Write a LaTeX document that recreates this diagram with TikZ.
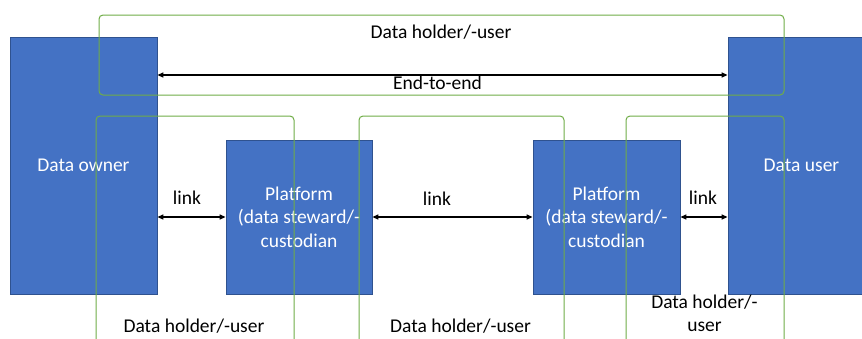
\documentclass[tikz,border=0pt]{standalone}
\usepackage{fontspec}
\setmainfont{Carlito}
\usetikzlibrary{arrows.meta}
\definecolor{boxblue}{HTML}{4472C4}
\definecolor{boxedge}{HTML}{2F528F}
\definecolor{scopegreen}{HTML}{70AD47}
\begin{document}
\begin{tikzpicture}[x=1pt,y=-1pt,
  font=\fontsize{19.5}{23.4}\selectfont,
  actor/.style={draw=boxedge, fill=boxblue, text=white, line width=0.8pt,
                align=center, inner sep=0pt},
  scopeline/.style={draw=scopegreen, line width=1pt, rounded corners=4pt},
  conn/.style={{Triangle[length=6pt,width=5pt]}-{Triangle[length=6pt,width=5pt]},
               line width=1.3pt},
  lbl/.style={anchor=base, inner sep=0pt, align=center}]
\clip (0,0) rectangle (862,338);
\fill[white] (0,0) rectangle (862,338);

% parties
\node[actor, minimum width=147pt, minimum height=257pt] (owner) at (83.5,165.5) {Data owner};
\node[actor, minimum width=146pt, minimum height=154pt] (p1) at (299,217) {Platform\\(data steward/-\\custodian};
\node[actor, minimum width=147pt, minimum height=154pt] (p2) at (606.5,217) {Platform\\(data steward/-\\custodian};
\node[actor, minimum width=147pt, minimum height=257pt] (user) at (801.5,165.5) {Data user};

% connections
\coordinate (e2e) at (0,75);
\draw[conn] (owner.east |- e2e) -- (user.west |- e2e);
\draw[conn] (owner.east |- p1.west) -- (p1.west);
\draw[conn] (p1.east) -- (p2.west);
\draw[conn] (p2.east) -- (user.west |- p2.east);

% labels
\node[lbl] (toplbl) at (441,38.5) {Data holder/-user};
\node[lbl] (e2elbl) at (437.5,89) {End-to-end};
\node[lbl] (link1) at (187,204) {link};
\node[lbl] (link2) at (437,205) {link};
\node[lbl] (link3) at (703,204) {link};
\node[lbl] (hold1) at (194,332.5) {Data holder/-user};
\node[lbl] (hold2) at (460.5,332.5) {Data holder/-user};
\node[inner sep=0pt, align=center] (hold3) at (704.5,313.5) {Data holder/-\\user};

% data holder/-user scopes
\draw[scopeline] (99,15) rectangle (784,95);
\draw[scopeline] (96,350) -- (96,116) -- (294,116) -- (294,350);
\draw[scopeline] (359,350) -- (359,116) -- (564,116) -- (564,350);
\draw[scopeline] (626,350) -- (626,116) -- (784,116) -- (784,350);
\end{tikzpicture}
\end{document}
